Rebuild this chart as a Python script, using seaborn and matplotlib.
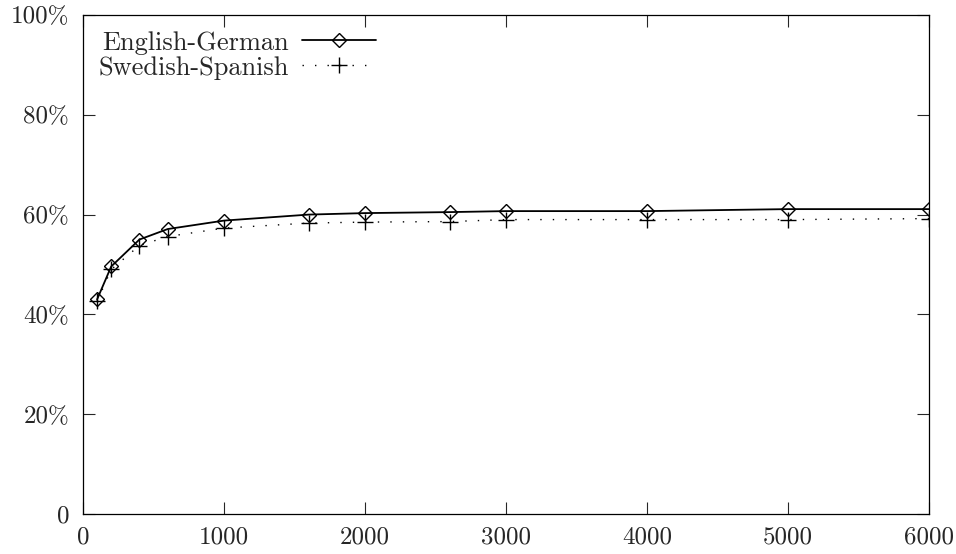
import pandas as pd
import matplotlib.pyplot as plt
import seaborn as sns

# values (percent)
sizes = [100, 200, 400, 600, 1000, 1600, 2000, 2600, 3000, 4000, 5000, 6000]
english_german = [43.0, 49.6, 55.0, 57.1, 58.8, 60.0, 60.3, 60.5, 60.7, 60.7, 61.1, 61.1]
swedish_spanish = [42.6, 49.0, 53.8, 55.6, 57.3, 58.3, 58.5, 58.6, 59.0, 59.0, 59.0, 59.2]

x_ticks = [0, 1000, 2000, 3000, 4000, 5000, 6000]
y_ticks = [0, 20, 40, 60, 80, 100]
y_labels = ['0', '20%', '40%', '60%', '80%', '100%']

sns.set_style('ticks')
plt.rcParams['font.family'] = ['cmr10', 'DejaVu Serif']
plt.rcParams['axes.formatter.use_mathtext'] = True
plt.rcParams['font.size'] = 18

df_eg = pd.DataFrame({'size': sizes, 'acc': english_german})
df_ss = pd.DataFrame({'size': sizes, 'acc': swedish_spanish})

fig = plt.figure(figsize=(9.56, 5.54), dpi=100)
ax = fig.add_axes([83 / 956, 40 / 554, 846 / 956, 499 / 554])

sns.lineplot(data=df_eg, x='size', y='acc', ax=ax, color='black', linewidth=1.3,
             marker='D', markersize=7.5, mfc='none', mec='black', mew=1.0,
             label='English-German')
sns.lineplot(data=df_ss, x='size', y='acc', ax=ax, color='black', linewidth=1.0,
             dashes=(1, 8), marker='+', markersize=11, mec='black', mew=1.0,
             label='Swedish-Spanish')

ax.set_xlim(0, 6000)
ax.set_ylim(0, 100)
ax.set_xticks(x_ticks)
ax.set_xticklabels([str(t) for t in x_ticks])
ax.set_yticks(y_ticks)
ax.set_yticklabels(y_labels)
ax.set_xlabel('')
ax.set_ylabel('')
ax.tick_params(direction='in', length=8.5, width=0.8, top=True, right=True,
               labelsize=18)
ax.tick_params(axis='x', pad=9)
ax.tick_params(axis='y', pad=10)
for s in ax.spines.values():
    s.set_linewidth(0.9)
    s.set_color('black')

ax.legend(loc='upper left', bbox_to_anchor=(0.0, 1.0), frameon=False,
          markerfirst=False, handlelength=2.8, handletextpad=0.5,
          labelspacing=0.05, fontsize=19, borderaxespad=0.2)

fig.savefig('out.png', dpi=100)
